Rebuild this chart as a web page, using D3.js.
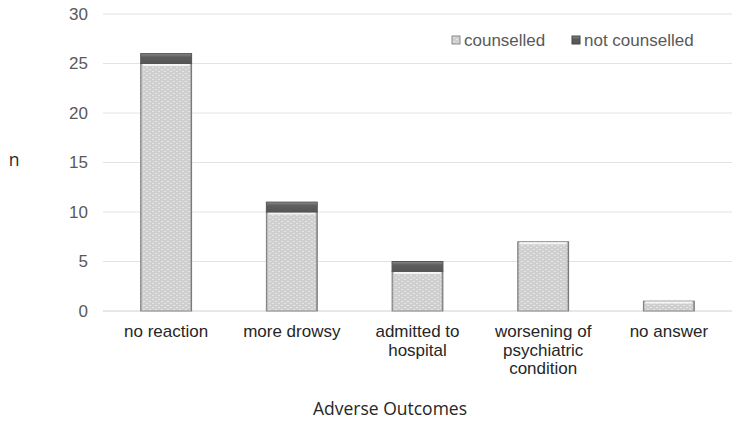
<!DOCTYPE html>
<html>
<head>
<meta charset="utf-8">
<script src="https://cdn.jsdelivr.net/npm/d3@7"></script>
<style>
  body { margin: 0; background: #fff; }
  text { font-family: "Liberation Sans", Arial, sans-serif; }
</style>
</head>
<body>
<div id="chart"></div>
<script>
// data
var categories = ["no reaction", "more drowsy", "admitted to hospital", "worsening of psychiatric condition", "no answer"];
var categoryLines = [["no reaction"], ["more drowsy"], ["admitted to", "hospital"], ["worsening of", "psychiatric", "condition"], ["no answer"]];
var counselled = [25, 10, 4, 7, 1];
var notCounselled = [1, 1, 1, 0, 0];
var seriesNames = ["counselled", "not counselled"];
var yTicks = [0, 5, 10, 15, 20, 25, 30];

var w = 738, h = 422;
var margin = { top: 14, right: 6, bottom: 111, left: 103 }; // plot area 103..732, 14..311
var width = w - margin.left - margin.right;
var height = h - margin.top - margin.bottom;

var svg = d3.select("#chart").append("svg")
    .attr("width", w)
    .attr("height", h);

var defs = svg.append("defs");

// dotted light grey fill for the counselled part
var pat = defs.append("pattern")
    .attr("id", "dots")
    .attr("width", 6).attr("height", 4)
    .attr("patternUnits", "userSpaceOnUse");
pat.append("rect").attr("width", 6).attr("height", 4).attr("fill", "#cfcfcf");
pat.append("rect").attr("x", 1).attr("y", 1).attr("width", 2).attr("height", 1).attr("fill", "#e6e6e6");
pat.append("rect").attr("x", 4).attr("y", 3).attr("width", 2).attr("height", 1).attr("fill", "#e6e6e6");

// side shading of the bars (bevel look)
var side = defs.append("linearGradient").attr("id", "side").attr("x1", 0).attr("x2", 1);
side.append("stop").attr("offset", "0%").attr("stop-color", "#707070").attr("stop-opacity", 0.8);
side.append("stop").attr("offset", "6%").attr("stop-color", "#ffffff").attr("stop-opacity", 0);
side.append("stop").attr("offset", "94%").attr("stop-color", "#ffffff").attr("stop-opacity", 0);
side.append("stop").attr("offset", "100%").attr("stop-color", "#606060").attr("stop-opacity", 0.9);

var darkG = defs.append("linearGradient").attr("id", "darkg").attr("x1", 0).attr("x2", 0).attr("y1", 0).attr("y2", 1);
darkG.append("stop").attr("offset", "0%").attr("stop-color", "#8a8a8a");
darkG.append("stop").attr("offset", "35%").attr("stop-color", "#5e5e5e");
darkG.append("stop").attr("offset", "100%").attr("stop-color", "#555555");

var g = svg.append("g").attr("transform", "translate(" + margin.left + "," + margin.top + ")");

var x = d3.scaleBand().domain(categories).range([0, width]).paddingInner(0.595).paddingOuter(0.3);
var y = d3.scaleLinear().domain([0, 30]).range([height, 0]);

// gridlines
g.append("g")
    .selectAll("line")
    .data(yTicks)
    .enter()
    .append("line")
    .attr("x1", 0).attr("x2", width)
    .attr("y1", d => y(d)).attr("y2", d => y(d))
    .attr("stroke", d => d === 0 ? "#d0d0d0" : "#e3e3e3")
    .attr("stroke-width", 1);

// y tick labels
g.append("g")
    .selectAll("text")
    .data(yTicks)
    .enter()
    .append("text")
    .attr("x", -15)
    .attr("y", d => y(d))
    .attr("dy", "0.35em")
    .attr("text-anchor", "end")
    .style("font-size", "17px")
    .style("fill", "#595959")
    .text(d => d);

var rows = categories.map((c, i) => ({ cat: c, a: counselled[i], b: notCounselled[i] }));

var bars = g.append("g").selectAll("g").data(rows).enter().append("g");

// counselled segment
bars.append("rect")
    .attr("x", d => x(d.cat))
    .attr("y", d => y(d.a))
    .attr("width", x.bandwidth())
    .attr("height", d => y(0) - y(d.a))
    .attr("fill", "url(#dots)")
    .attr("stroke", "#8a8a8a")
    .attr("stroke-width", 1);
bars.append("rect")
    .attr("x", d => x(d.cat))
    .attr("y", d => y(d.a))
    .attr("width", x.bandwidth())
    .attr("height", d => y(0) - y(d.a))
    .attr("fill", "url(#side)");
bars.append("line") // light top edge
    .attr("x1", d => x(d.cat) + 2).attr("x2", d => x(d.cat) + x.bandwidth() - 2)
    .attr("y1", d => y(d.a) + 1.5).attr("y2", d => y(d.a) + 1.5)
    .attr("stroke", "#f4f4f4").attr("stroke-width", 2);

// not counselled segment
bars.filter(d => d.b > 0).append("rect")
    .attr("x", d => x(d.cat))
    .attr("y", d => y(d.a + d.b))
    .attr("width", x.bandwidth())
    .attr("height", d => y(d.a) - y(d.a + d.b))
    .attr("fill", "url(#darkg)")
    .attr("stroke", "#555555")
    .attr("stroke-width", 1);

// category labels
var lab = g.append("g").selectAll("text")
    .data(categories)
    .enter()
    .append("text")
    .attr("x", d => x(d) + x.bandwidth() / 2)
    .attr("y", height + 26)
    .attr("text-anchor", "middle")
    .style("font-size", "17px")
    .style("fill", "#262626");
lab.selectAll("tspan")
    .data((d, i) => categoryLines[i])
    .enter()
    .append("tspan")
    .attr("x", function() { return this.parentNode.getAttribute("x"); })
    .attr("dy", (d, i) => i === 0 ? 0 : 18.5)
    .text(d => d);

// axis titles
svg.append("text")
    .attr("x", 390)
    .attr("y", 415)
    .attr("text-anchor", "middle")
    .style("font-family", "'Open Sans', sans-serif")
    .style("font-size", "17.5px")
    .style("fill", "#262626")
    .text("Adverse Outcomes");

svg.append("text")
    .attr("x", 14)
    .attr("y", 166)
    .attr("text-anchor", "middle")
    .style("font-family", "'Open Sans', sans-serif")
    .style("font-size", "17.5px")
    .style("fill", "#262626")
    .text("n");

// legend
var legend = svg.append("g").attr("transform", "translate(452,40)");
var legX = [0, 120];
var legFill = ["url(#dots)", "url(#darkg)"];
var legStroke = ["#8a8a8a", "#444444"];
var item = legend.selectAll("g").data(seriesNames).enter().append("g")
    .attr("transform", (d, i) => "translate(" + legX[i] + ",0)");
item.append("rect")
    .attr("x", 0).attr("y", -4)
    .attr("width", 8).attr("height", 8)
    .attr("fill", (d, i) => legFill[i])
    .attr("stroke", (d, i) => legStroke[i]);
item.append("text")
    .attr("x", 12)
    .attr("dy", "0.35em")
    .style("font-size", "17px")
    .style("fill", "#595959")
    .text(d => d);
</script>
</body>
</html>
